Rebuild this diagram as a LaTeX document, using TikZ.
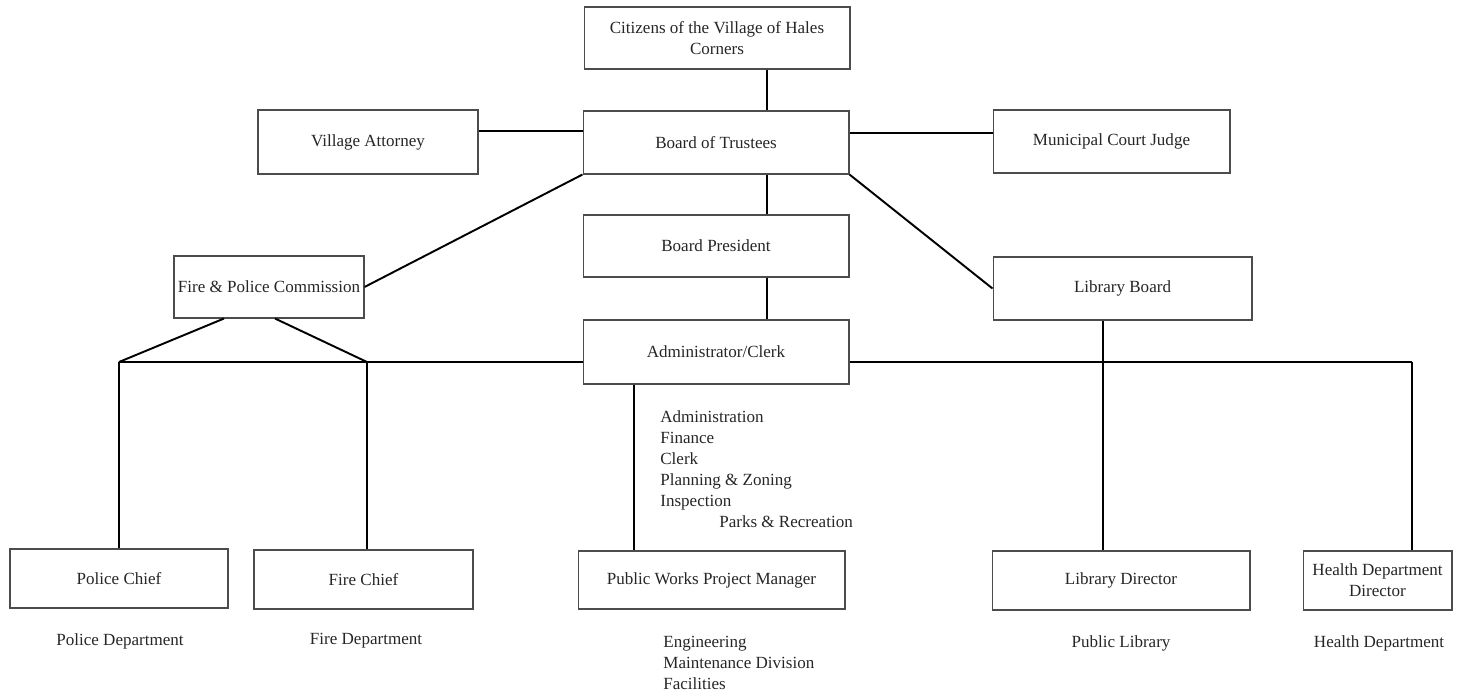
\documentclass[tikz,border=0pt]{standalone}
\usepackage{fontspec}
\setmainfont{Liberation Serif}
\usetikzlibrary{calc}

\begin{document}
\begin{tikzpicture}[x=0.02cm, y=-0.02cm,
	font=\fontsize{9.7}{12}\selectfont,
	unit/.style={draw=black!70, line width=0.6pt, fill=white, inner sep=1pt, align=center, text=black!85},
	link/.style={line width=1.1pt},
	note/.style={inner sep=0pt, align=left, text=black!85}]

\useasboundingbox (0,0) rectangle (1461,696);

\coordinate (spine)  at (767,0);
\coordinate (busL)   at (119,362);
\coordinate (busF)   at (367,362);
\coordinate (busR)   at (1412,362);
\coordinate (pwline) at (634,0);
\coordinate (libline) at (1103,0);

%upper boxes
\node[unit, minimum width=5.32cm, minimum height=1.24cm] (cit)   at (717,38)    {Citizens of the Village of Hales\\Corners};
\node[unit, minimum width=5.32cm, minimum height=1.26cm] (trust) at (716,142.5)  {Board of Trustees};
\node[unit, minimum width=4.40cm, minimum height=1.28cm] (atty)  at (368,142)    {Village Attorney};
\node[unit, minimum width=4.74cm, minimum height=1.26cm] (judge) at (1111.5,141.5) {Municipal Court Judge};
\node[unit, minimum width=5.32cm, minimum height=1.24cm] (pres)  at (716,246)    {Board President};
\node[unit, minimum width=3.80cm, minimum height=1.24cm] (fpc)   at (269,287)    {Fire \& Police Commission};
\node[unit, minimum width=5.18cm, minimum height=1.26cm] (libb)  at (1122.5,288.5) {Library Board};
\node[unit, minimum width=5.32cm, minimum height=1.28cm] (admin) at (716,352)    {Administrator/Clerk};
%
%lower boxes
\node[unit, minimum width=4.36cm, minimum height=1.18cm] (police) at (119,578.5)  {Police Chief};
\node[unit, minimum width=4.38cm, minimum height=1.18cm] (fire)   at (363.5,579.5) {Fire Chief};
\node[unit, minimum width=5.34cm, minimum height=1.16cm] (pwm)    at (711.5,580)  {Public Works Project Manager};
\node[unit, minimum width=5.16cm, minimum height=1.18cm] (libd)   at (1121,580.5) {Library Director};
\node[unit, minimum width=2.98cm, minimum height=1.18cm] (hdd)    at (1377.5,580.5) {Health Department\\Director};

%links
\draw [link] (cit.south -| spine)   -- (trust.north -| spine);	%cit--trust
\draw [link] (trust.south -| spine) -- (pres.north -| spine);	%trust--pres
\draw [link] (pres.south -| spine)  -- (admin.north -| spine);	%pres--admin
\draw [link] ([yshift=0.22cm]atty.east)  -- ([yshift=0.22cm]atty.east -| trust.west);	%atty--trust
\draw [link] ([yshift=0.19cm]trust.east) -- ([yshift=0.19cm]trust.east -| judge.west);	%trust--judge
\draw [link] (trust.south west) -- (fpc.east);	%trust--fpc
\draw [link] (trust.south east) -- (libb.west);	%trust--libb
%
\draw [link] ([xshift=-0.9cm]fpc.south) -- (busL);	%fpc--busL
\draw [link] ([xshift=0.12cm]fpc.south) -- (busF);	%fpc--busF
\draw [link] (busL) -- (admin.west |- busL);	%bus left
\draw [link] (admin.east |- busR) -- (busR);	%bus right
%
\draw [link] (busL) -- (police.north);	%busL--police
\draw [link] (busF) -- (fire.north -| busF);	%busF--fire
\draw [link] (admin.south -| pwline) -- (pwm.north -| pwline);	%admin--pwm
\draw [link] (libb.south -| libline) -- (libd.north -| libline);	%libb--libd
\draw [link] (busR) -- (hdd.north -| busR);	%busR--hdd

%labels
\node[note, anchor=north west] (duties) at (660,410) {Administration\\Finance\\Clerk\\Planning \& Zoning\\Inspection\\\hspace*{1.18cm}Parks \& Recreation};
%
\node[note] (policedept) at (120,641)  {Police Department};
\node[note] (firedept)   at (366,641)  {Fire Department};
\node[note, anchor=north west] (works) at (663,636) {Engineering\\Maintenance Division\\Facilities};
\node[note] (library)    at (1121,643) {Public Library};
\node[note] (health)     at (1379,643) {Health Department};

\end{tikzpicture}
\end{document}
